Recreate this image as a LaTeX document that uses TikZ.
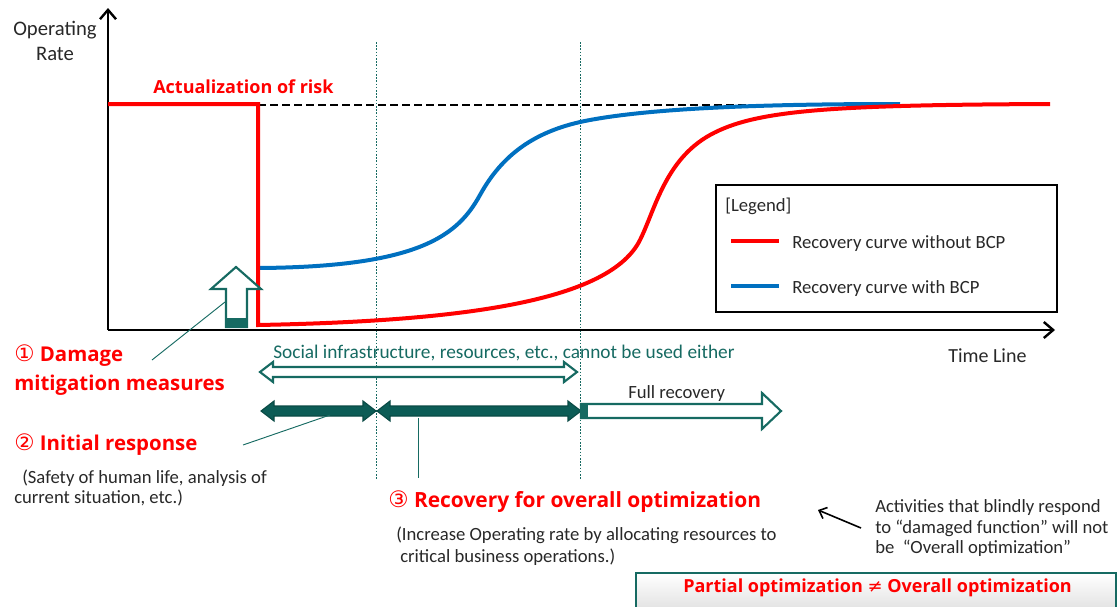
\documentclass[tikz,border=0pt]{standalone}
\usepackage{fontspec}
\setmainfont{Carlito}
\newfontfamily\symfont{DejaVu Sans}
\newfontfamily\labelfont{Open Sans}
\usepackage{xcolor}
\usetikzlibrary{arrows.meta}
\definecolor{riskRed}{RGB}{255, 0, 0}
\definecolor{bcpBlue}{RGB}{0, 112, 192}
\definecolor{phaseTeal}{RGB}{22, 106, 98}
\definecolor{phaseDark}{RGB}{12, 92, 86}
\definecolor{textGray}{RGB}{40, 40, 40}
\newcommand{\circnum}[1]{{\symfont\mdseries\fontsize{17}{17}\selectfont #1}}

\begin{document}
\begin{tikzpicture}[x=0.75pt, y=-0.75pt]
    \tikzstyle{axis} = [line width=1.8pt, -{Straight Barb[length=7pt, width=12pt, line width=1.8pt]}]
    \tikzstyle{txt} = [anchor=base west, inner sep=0, text=textGray, font=\fontsize{14}{16}\selectfont]
    \tikzstyle{redlbl} = [anchor=base west, inner sep=0, text=riskRed, font=\labelfont\bfseries\fontsize{15.3}{18}\selectfont]
    \tikzstyle{hollow} = [draw=phaseTeal, line width=1.6pt, fill=white]
    \tikzstyle{solid} = [draw=phaseDark!80!black, line width=0.8pt, fill=phaseDark]
    \tikzstyle{guide} = [phaseTeal, line width=0.6pt, dash pattern=on 1.2pt off 1.2pt]
    \tikzstyle{leader} = [phaseTeal, line width=0.7pt]

    \useasboundingbox (0,0) rectangle (1118,607);

    % phase boundaries
    \draw[guide] (376,42) -- (376,480);
    \draw[guide] (580,42) -- (580,480);

    % axes
    \coordinate (origin) at (108,330);
    \draw[axis] (origin) -- (108,8);
    \draw[axis] (origin) -- (1055,330);
    \node[txt, anchor=center, align=center, font=\fontsize{15.5}{18.5}\selectfont] (ylabel) at (55,41) {Operating\\Rate};
    \node[txt, font=\fontsize{15}{17}\selectfont] (xlabel) at (948,362) {Time Line};

    % curves
    \draw[black, line width=1.1pt, dash pattern=on 6pt off 3pt] (258,105) -- (1040,105);
    \draw[bcpBlue, line width=3pt] (258,268) .. controls (420,267) and (458,235) .. (480,195)
        .. controls (502,155) and (535,130) .. (590,120) .. controls (660,107) and (780,104) .. (900,104);
    \draw[riskRed, line width=3pt] (108,104) -- (258,104) -- (258,325)
        .. controls (470,321) and (610,300) .. (640,240) .. controls (655,210) and (665,160) .. (710,135)
        .. controls (755,110) and (830,105) .. (1050,104);
    \node[redlbl, font=\labelfont\bfseries\fontsize{13.5}{16}\selectfont] (risk) at (153,93) {Actualization of risk};

    % legend
    \node[draw, line width=0.8pt, minimum width=255.75pt, minimum height=95.25pt] (legend) at (886.5,248.5) {};
    \node[txt] (legtitle) at (725,211) {[Legend]};
    \draw[riskRed, line width=3pt] (731,241) -- (779,241);
    \node[txt] (legred) at (792,248) {Recovery curve without BCP};
    \draw[bcpBlue, line width=3pt] (731,286) -- (779,286);
    \node[txt] (legblue) at (792,293) {Recovery curve with BCP};

    % damage mitigation arrow
    \draw[hollow] (226,327) -- (226,289) -- (211,289) -- (236,267) -- (261,289) -- (247,289) -- (247,327) -- cycle;
    \fill[phaseTeal] (226,318) rectangle (247,327);
    \coordinate (mitfoot) at (225,302);
    \coordinate (mitend) at (152,360);
    \draw[leader] (mitfoot) -- (mitend);

    % phase arrows
    \node[txt, text=phaseTeal, font=\fontsize{14.5}{17}\selectfont] (infra) at (273,358) {Social infrastructure, resources, etc., cannot be used either};
    \draw[hollow] (260,372) -- (273,362) -- (273,367) -- (564,367) -- (564,362) -- (577,372) -- (564,382) -- (564,377)
        -- (273,377) -- (273,382) -- cycle;
    \draw[solid] (261,411) -- (274,401) -- (274,406) -- (363,406) -- (363,401) -- (376,411) -- (363,421) -- (363,416)
        -- (274,416) -- (274,421) -- cycle;
    \draw[solid] (377,411) -- (390,401) -- (390,406) -- (568,406) -- (568,401) -- (581,411) -- (568,421) -- (568,416)
        -- (390,416) -- (390,421) -- cycle;
    \draw[hollow] (581,404) -- (762,404) -- (762,393) -- (781,411) -- (762,429) -- (762,418) -- (581,418) -- cycle;
    \fill[phaseTeal] (580,403) rectangle (588,419);
    \node[txt] (full) at (628,398) {Full recovery};
    \coordinate (initfoot) at (330,415);
    \coordinate (initend) at (243,445);
    \draw[leader] (initfoot) -- (initend);
    \coordinate (recfoot) at (418,418);
    \coordinate (recend) at (418,478);
    \draw[leader] (recfoot) -- (recend);

    % phase labels
    \node[redlbl] (damage) at (14,361) {\circnum{①} Damage};
    \node[redlbl] (mitig) at (14,390) {mitigation measures};
    \node[redlbl] (initial) at (14,450) {\circnum{②} Initial response};
    \node[txt] (safety1) at (22,483) {(Safety of human life, analysis of};
    \node[txt] (safety2) at (14,503) {current situation, etc.)};
    \node[redlbl, font=\labelfont\bfseries\fontsize{15.7}{18}\selectfont] (overall) at (388,507) {\circnum{③} Recovery for overall optimization};
    \node[txt] (incr1) at (396,540) {(Increase Operating rate by allocating resources to};
    \node[txt] (incr2) at (400,562) {critical business operations.)};

    % remark
    \node[txt] (blind1) at (875,512) {Activities that blindly respond};
    \node[txt] (blind2) at (875,533) {to “damaged function" will not};
    \node[txt] (blind3) at (875,553) {be \ “Overall optimization"};
    \coordinate (blindtail) at (861,528);
    \coordinate (blindhead) at (818,510);
    \draw[line width=1.2pt, -{Straight Barb[length=5pt, width=9pt, line width=1.2pt]}] (blindtail) -- (blindhead);

    % bottom statement
    \draw[draw=phaseTeal, line width=1.6pt, top color=white, bottom color=black!12] (636,573) rectangle (1116,612);
    \node[redlbl, font=\labelfont\bfseries\fontsize{13.5}{16}\selectfont] (partial) at (683,592) {Partial optimization {\symfont\mdseries ≠} Overall optimization};
\end{tikzpicture}
\end{document}
